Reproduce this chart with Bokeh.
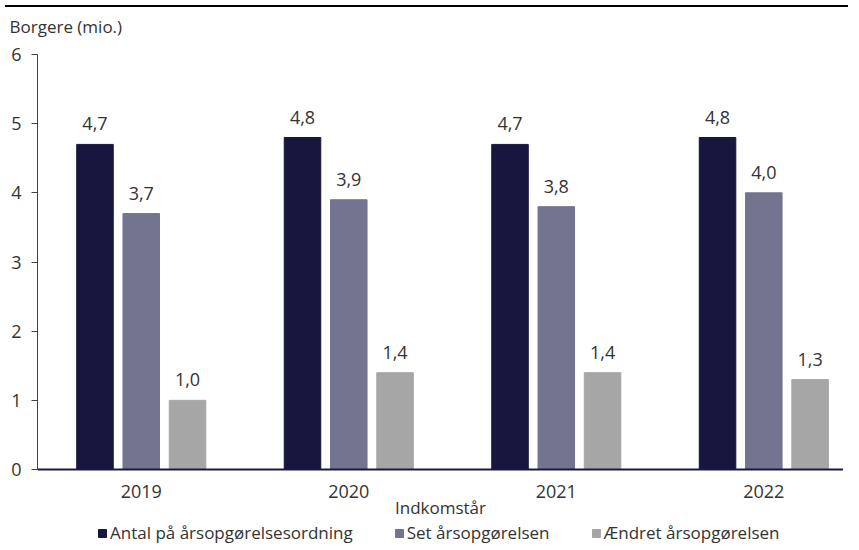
from bokeh.plotting import figure
from bokeh.models import ColumnDataSource, Range1d, FixedTicker, LabelSet, Legend, LegendItem, Div, Title
from bokeh.layouts import column
from bokeh.core.properties import value
from bokeh.transform import dodge
from bokeh.embed import file_html
from bokeh.resources import INLINE

# ---- data ----
years = ["2019", "2020", "2021", "2022"]
antal = [4.7, 4.8, 4.7, 4.8]
set_aarsopg = [3.7, 3.9, 3.8, 4.0]
aendret = [1.0, 1.4, 1.4, 1.3]
series_names = ["Antal på årsopgørelsesordning", "Set årsopgørelsen", "Ændret årsopgørelsen"]
y_ticks = [0, 1, 2, 3, 4, 5, 6]

colors = ["#16163f", "#737490", "#a6a6a6"]
FONT = "Open Sans"
TXT = "#333333"
W = 843


def fmt(v):
    return f"{v:.1f}".replace(".", ",")


xpos = [i + 0.5 for i in range(len(years))]
src = ColumnDataSource(dict(
    x=xpos,
    s0=antal, s1=set_aarsopg, s2=aendret,
    l0=[fmt(v) for v in antal],
    l1=[fmt(v) for v in set_aarsopg],
    l2=[fmt(v) for v in aendret],
))

p = figure(width=W, height=510, x_range=Range1d(0, 3.884), y_range=Range1d(0, 6),
           output_backend="svg", toolbar_location=None,
           min_border_left=37, min_border_right=0, min_border_top=41, min_border_bottom=53)

# spacer title (closest to frame) then the real y-axis caption
p.add_layout(Title(text=" ", text_font_size="13px", standoff=0), "above")
p.add_layout(Title(text="Borgere (mio.)", align="left", offset=-28, text_font=FONT,
                   text_font_style="normal", text_font_size="17px", text_color=TXT,
                   standoff=0), "above")

offsets = [-0.223, 0.0, 0.223]
bw = 0.176
for i in range(3):
    p.vbar(x=dodge("x", offsets[i]), top=f"s{i}", width=bw, source=src,
           fill_color=colors[i], line_color=colors[i])
    lbl = LabelSet(x=dodge("x", offsets[i]), y=f"s{i}", text=f"l{i}", source=src,
                   text_align="center", text_baseline="bottom", y_offset=14,
                   text_font=value(FONT), text_font_size=value("18px"), text_color=TXT)
    p.add_layout(lbl)

p.xgrid.visible = False
p.ygrid.visible = False
p.outline_line_color = None

p.yaxis.ticker = FixedTicker(ticks=y_ticks)
p.yaxis.minor_tick_line_color = None
p.yaxis.major_tick_out = 6
p.yaxis.major_tick_in = 0
p.yaxis.axis_line_color = "#404040"
p.yaxis.major_tick_line_color = "#404040"
p.yaxis.major_label_text_font = FONT
p.yaxis.major_label_text_font_size = "18px"
p.yaxis.major_label_text_color = TXT
p.yaxis.major_label_standoff = 10

p.xaxis.ticker = FixedTicker(ticks=xpos)
p.xaxis.major_label_overrides = {x: y for x, y in zip(xpos, years)}
p.xaxis.minor_tick_line_color = None
p.xaxis.major_tick_line_color = None
p.xaxis.axis_line_color = "#1a1a40"
p.xaxis.axis_line_width = 2
p.xaxis.major_label_text_font = FONT
p.xaxis.major_label_text_font_size = "18px"
p.xaxis.major_label_text_color = TXT
p.xaxis.major_label_standoff = 9
p.xaxis.axis_label = "Indkomstår"
p.xaxis.axis_label_text_font = FONT
p.xaxis.axis_label_text_font_style = "normal"
p.xaxis.axis_label_text_font_size = "17px"
p.xaxis.axis_label_text_color = TXT
p.xaxis.axis_label_standoff = -5

# ---- legend strip below the chart (swatches only; renderers hold no visible mark) ----
lg = figure(width=W, height=22, x_range=Range1d(0, 1), y_range=Range1d(0, 1),
            output_backend="svg", toolbar_location=None,
            x_axis_location=None, y_axis_location=None,
            min_border_left=37, min_border_right=0, min_border_top=0, min_border_bottom=0)
lg.grid.visible = False
lg.outline_line_color = None
items = []
for i in range(3):
    r = lg.vbar(x=[float("nan")], top=[float("nan")], width=0.1,
                fill_color=colors[i], line_color=colors[i])
    items.append(LegendItem(label=series_names[i], renderers=[r]))
legend = Legend(items=items, orientation="horizontal", location=(60, 0),
                border_line_color=None, background_fill_alpha=0,
                glyph_width=10, glyph_height=10, label_standoff=3, spacing=41,
                padding=0, margin=0,
                label_text_font=FONT, label_text_font_size="17px", label_text_color=TXT)
lg.add_layout(legend)

top_line = Div(width=W, height=2, styles={"background-color": "black"})
layout = column(top_line, p, lg, spacing=0)

open("out.html", "w").write(file_html(layout, INLINE))
